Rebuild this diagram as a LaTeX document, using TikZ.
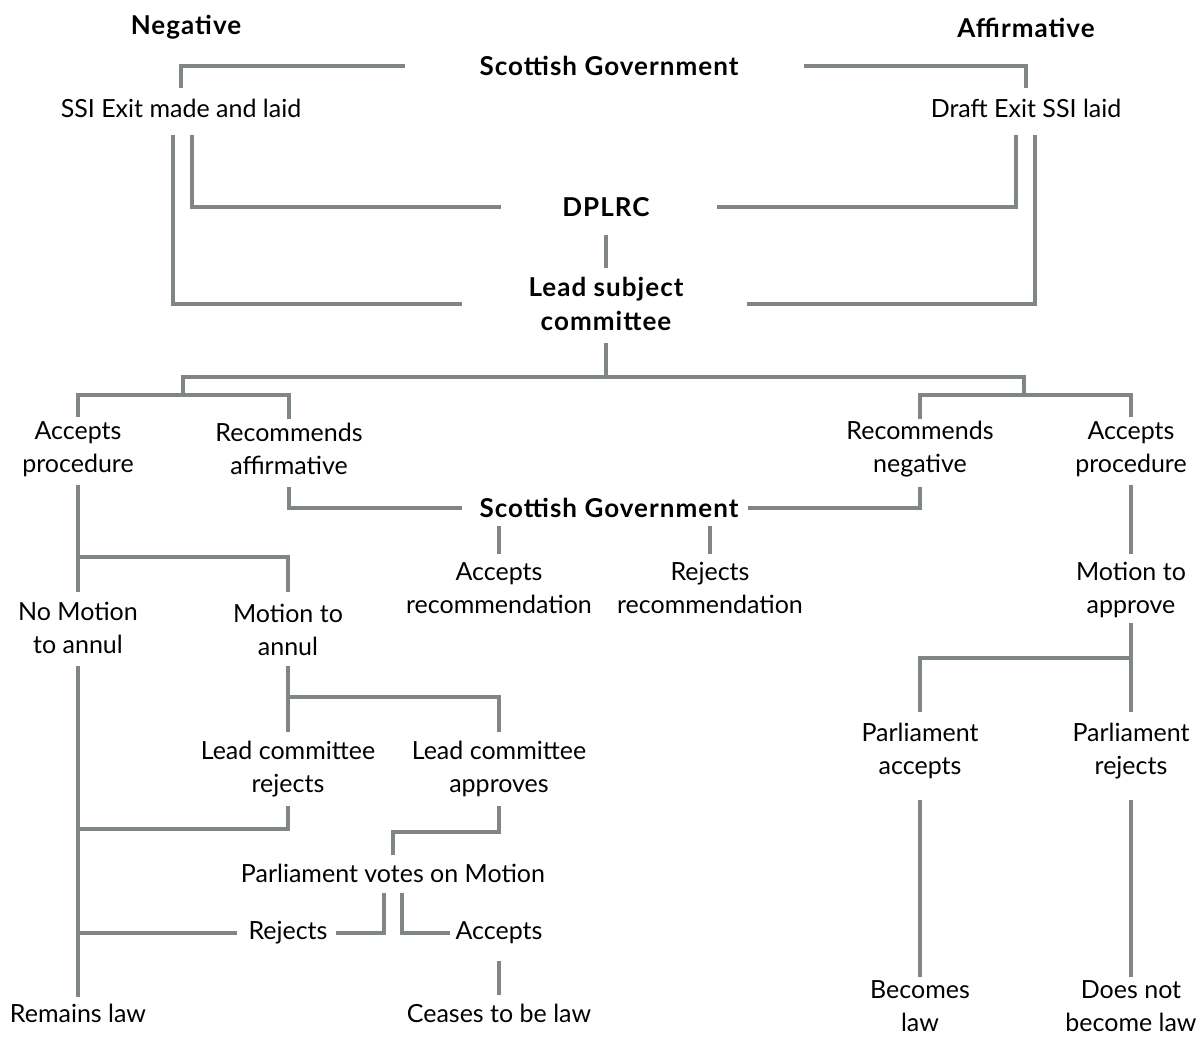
\documentclass[tikz,border=0pt]{standalone}
\usepackage{fontspec}
\setmainfont{Lato}
\newfontfamily\headfont[LetterSpace=4.0]{Lato}
\definecolor{linegray}{RGB}{128,133,133}

\begin{document}
\begin{tikzpicture}[x=1pt,y=-1pt,node distance=211pt,
  every node/.style={font=\fontsize{25}{33.5}\selectfont,align=center,inner sep=0pt},
  head/.style={font=\fontsize{26}{33.5}\selectfont\headfont\bfseries},
  link/.style={draw=linegray,line width=4pt,line cap=rect}]
\useasboundingbox (0,0) rectangle (1197,1037);
\node[head]  (neg)     at (186,27)   {Negative};
\node[head]  (aff)     at (1026,28)  {Affirmative};
\node[head]  (sgtop)   at (609,66)   {Scottish Government};
\node        (ssi)     at (181,108)  {SSI Exit made and laid};
\node        (draft)   at (1026,108) {Draft Exit SSI laid};
\node[head]  (dplrc)   at (606,207)  {DPLRC};
\node[head]  (lead)    at (606,304)  {Lead subject\\committee};
\node        (accl)    at (78,449)   {Accepts\\procedure};
\node        (recaff)  [right of=accl]  {Recommends\\affirmative};
\node        (accr)    at (1131,449) {Accepts\\procedure};
\node        (recneg)  [left of=accr]   {Recommends\\negative};
\node[head]  (sgmid)   at (609,508)  {Scottish Government};
\node        (accrec)  at (499,588)  {Accepts\\recommendation};
\node        (rejrec)  [right of=accrec] {Rejects\\recommendation};
\node        (motapp)  at (1131,590) {Motion to\\approve};
\node        (nomot)   at (78,628)   {No Motion\\to annul};
\node        (motann)  at (288,630)  {Motion to\\annul};
\node        (parlrej) at (1131,751) {Parliament\\rejects};
\node        (parlacc) [left of=parlrej] {Parliament\\accepts};
\node        (lcrej)   at (288,769)  {Lead committee\\rejects};
\node        (lcapp)   [right of=lcrej]  {Lead committee\\approves};
\node        (votes)   at (393,873)  {Parliament votes on Motion};
\node        (rejects) at (288,933)  {Rejects};
\node        (accepts) [right of=rejects] {Accepts};
\node        (remains) at (78,1013)  {Remains law};
\node        (ceases)  at (499,1013) {Ceases to be law};
\node        (doesnot) at (1131,1006) {Does not\\become law};
\node        (becomes) [left of=doesnot] {Becomes\\law};
\coordinate (forkl)    at (183,377);
\coordinate (forkr)    at (1024,377);
\coordinate (negfork)  at (183,395);
\coordinate (afffork)  at (1024,395);
\coordinate (annfork)  at (78,557);
\coordinate (parlfork) at (1131,658);
\coordinate (cmtfork)  at (288,697);
\coordinate (join1)    at (78,829);
\coordinate (join2)    at (78,933);
\draw[link, shorten <=206pt, shorten >=22pt] (sgtop.center) -| (ssi.center);
\draw[link, shorten <=197pt, shorten >=22pt] (sgtop.center) -| (draft.center);
\draw[link, shorten <=29pt, shorten >=107pt] ([xshift=11pt]ssi.center) |- (dplrc.center);
\draw[link, shorten <=29pt, shorten >=146pt] ([xshift=-8pt]ssi.center) |- (lead.center);
\draw[link, shorten <=29pt, shorten >=113pt] ([xshift=-10pt]draft.center) |- (dplrc.center);
\draw[link, shorten <=29pt, shorten >=143pt] ([xshift=9pt]draft.center) |- (lead.center);
\draw[link, shorten <=30pt, shorten >=38pt] (dplrc.center) -- (lead.center);
\draw[link, shorten <=41pt] (lead.center) -- (lead |- forkl);
\draw[link] (forkl) -- (forkr);
\draw[link] (forkl) -- (negfork);
\draw[link] (forkr) -- (afffork);
\draw[link, shorten >=34pt] (negfork) -| (accl.center);
\draw[link, shorten >=32pt] (negfork) -| (recaff.center);
\draw[link, shorten >=32pt] (afffork) -| (recneg.center);
\draw[link, shorten >=34pt] (afffork) -| (accr.center);
\draw[link, shorten <=40pt, shorten >=149pt] (recaff.center) |- (sgmid.center);
\draw[link, shorten <=40pt, shorten >=141pt] (recneg.center) |- (sgmid.center);
\draw[link, shorten <=20pt, shorten >=36pt] (sgmid -| accrec) -- (accrec.center);
\draw[link, shorten <=20pt, shorten >=36pt] (sgmid -| rejrec) -- (rejrec.center);
\draw[link, shorten <=38pt, shorten >=38pt] (accl.center) -- (nomot.center);
\draw[link, shorten >=40pt] (annfork) -| (motann.center);
\draw[link, shorten <=38pt, shorten >=38pt] (accr.center) -- (motapp.center);
\draw[link, shorten <=35pt, shorten >=41pt] (motapp.center) -- (parlrej.center);
\draw[link, shorten >=41pt] (parlfork) -| (parlacc.center);
\draw[link, shorten <=51pt, shorten >=31pt] (parlacc.center) -- (becomes.center);
\draw[link, shorten <=51pt, shorten >=31pt] (parlrej.center) -- (doesnot.center);
\draw[link, shorten <=40pt, shorten >=18pt] (nomot.center) -- (remains.center);
\draw[link, shorten <=38pt, shorten >=39pt] (motann.center) -- (lcrej.center);
\draw[link, shorten >=39pt] (cmtfork) -| (lcapp.center);
\draw[link, shorten <=39pt] (lcrej.center) |- (join1);
\draw[link, shorten <=39pt, shorten >=20pt] (lcapp.center) -- ++(0,63) -| (votes.center);
\draw[link, shorten <=22pt, shorten >=50pt] ([xshift=-9pt]votes.center) |- (rejects.center);
\draw[link, shorten <=22pt, shorten >=51pt] ([xshift=9pt]votes.center) |- (accepts.center);
\draw[link, shorten <=53pt] (rejects.center) -- (join2);
\draw[link, shorten <=30pt, shorten >=20pt] (accepts.center) -- (ceases.center);
\end{tikzpicture}
\end{document}
